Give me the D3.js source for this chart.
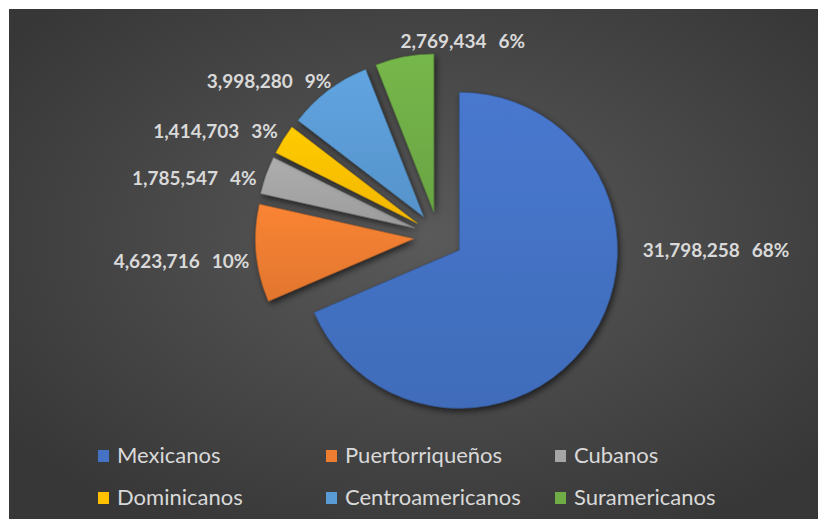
<!DOCTYPE html>
<html><head><meta charset="utf-8">
<script src="https://cdn.jsdelivr.net/npm/d3@7"></script>
<style>html,body{margin:0;padding:0;background:#fff;} svg{display:block}</style>
</head><body><svg id="c" width="819" height="519"></svg>
<script>
// ---- data ----
const categories = ["Mexicanos","Puertorriqueños","Cubanos","Dominicanos","Centroamericanos","Suramericanos"];
const values = [31798258, 4623716, 1785547, 1414703, 3998280, 2769434];
const pctLabels = ["68%","10%","4%","3%","9%","6%"];
const colors = ["#4472C4","#ED7D31","#A5A5A5","#FFC000","#5B9BD5","#70AD47"];

// ---- layout ----
const W = 819, H = 519;
const cx = 438.5, cy = 236.5, R = 158, explode = 25;
const labelAnchor = ["start","end","end","end","end","start"];
const labelNudge = [[43,-86],[3,14],[0,13],[3,4],[9,6],[-2,1]];
const legendCols = [98, 326, 555], legendRows = [463, 505];

const svg = d3.select("#c");
const defs = svg.append("defs");

const bg = defs.append("radialGradient").attr("id","bg")
  .attr("cx","52%").attr("cy","45%").attr("r","65%");
bg.append("stop").attr("offset","0%").attr("stop-color","#5a5a5a");
bg.append("stop").attr("offset","100%").attr("stop-color","#373737");

svg.append("rect").attr("x",9).attr("y",9).attr("width",809).attr("height",H-9)
  .attr("fill","url(#bg)");

const f = defs.append("filter").attr("id","sh").attr("x","-20%").attr("y","-20%").attr("width","140%").attr("height","140%");
f.append("feDropShadow").attr("dx",2).attr("dy",3).attr("stdDeviation",3)
  .attr("flood-color","#000").attr("flood-opacity",0.6);

colors.forEach((c,i)=>{
  const g = defs.append("linearGradient").attr("id","g"+i)
    .attr("x1",0).attr("y1",0).attr("x2",0).attr("y2",1);
  g.append("stop").attr("offset","0%").attr("stop-color",d3.color(c).brighter(0.15));
  g.append("stop").attr("offset","100%").attr("stop-color",d3.color(c).darker(0.15));
});

const pie = d3.pie().sort(null).value(d=>d)(values);
const arc = d3.arc().innerRadius(0).outerRadius(R);

const gPie = svg.append("g").attr("transform",`translate(${cx},${cy})`);
pie.forEach((p,i)=>{
  const m = (p.startAngle+p.endAngle)/2;
  const ox = explode*Math.sin(m), oy = -explode*Math.cos(m);
  gPie.append("path")
    .attr("d",arc(p))
    .attr("transform",`translate(${ox},${oy})`)
    .attr("fill",`url(#g${i})`)
    .attr("stroke",d3.color(colors[i]).darker(0.8))
    .attr("stroke-width",0.6)
    .attr("filter","url(#sh)");
});

// labels
const fmt = d3.format(",");
pie.forEach((p,i)=>{
  const m = (p.startAngle+p.endAngle)/2;
  const vx = cx + explode*Math.sin(m), vy = cy - explode*Math.cos(m);
  const ax = vx + (R+10)*Math.sin(m), ay = vy - (R+10)*Math.cos(m);
  const t = svg.append("text")
    .attr("x", ax + labelNudge[i][0])
    .attr("y", ay + labelNudge[i][1])
    .attr("text-anchor", labelAnchor[i])
    .attr("font-family","Lato, 'Open Sans', sans-serif")
    .attr("font-weight",700)
    .attr("font-size",19)
    .attr("fill","#d9d9d9");
  t.append("tspan").text(fmt(values[i]));
  t.append("tspan").attr("dx",12).text(pctLabels[i]);
});

// legend
const lg = svg.append("g");
categories.forEach((c,i)=>{
  const col = i%3, row = Math.floor(i/3);
  const x = legendCols[col], y = legendRows[row];
  lg.append("rect").attr("x",x).attr("y",y-13).attr("width",11).attr("height",12)
    .attr("fill",colors[i]);
  lg.append("text").attr("x",x+19).attr("y",y)
    .attr("font-family","Lato, 'Open Sans', sans-serif")
    .attr("font-size",22)
    .attr("fill","#d9d9d9")
    .text(c);
});
</script></body></html>
